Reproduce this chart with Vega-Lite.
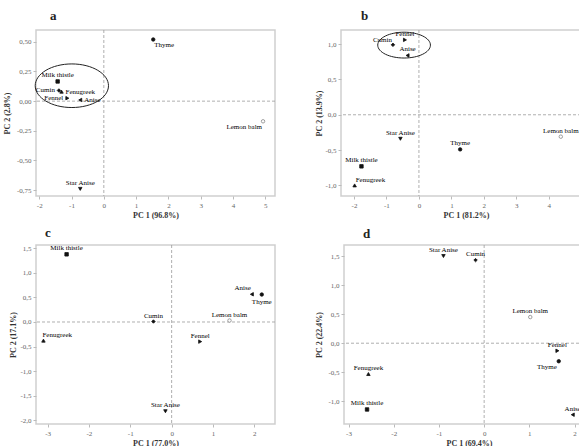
{
  "$schema": "https://vega.github.io/schema/vega-lite/v6.json",
  "padding": {"left": 2, "top": 8, "right": 0, "bottom": 0},
  "background": "white",
  "config": {
    "locale": {"number": {"decimal": ",", "thousands": ".", "grouping": [3], "currency": ["", ""], "minus": "-"}},
    "view": {"stroke": "#cfcfcf", "strokeWidth": 1.5},
    "font": "Liberation Serif",
    "title": {"font": "Liberation Serif", "fontSize": 13, "fontWeight": "bold", "anchor": "start", "frame": "group", "offset": 7, "color": "#222"},
    "axis": {
      "labelFont": "Liberation Serif", "labelFontSize": 7, "labelColor": "#666", "labelOverlap": false, "labelFlush": false,
      "titleFont": "Liberation Serif", "titleFontSize": 8, "titleFontWeight": "bold", "titleColor": "#333",
      "domain": false, "tickColor": "#bbb", "tickSize": 3, "labelPadding": 2, "tickCount": 30,
      "gridColor": "#dcdcdc", "gridDash": [1, 2]
    },
    "axisX": {"titlePadding": 3},
    "axisY": {"titlePadding": 3},
    "legend": {"disable": true}
  },
  "datasets": {
    "pts": [
      {"panel": "a", "sample": "Thyme", "x": 1.53, "y": 0.52, "pos": "br"},
      {"panel": "a", "sample": "Milk thistle", "x": -1.43, "y": 0.166, "pos": "t"},
      {"panel": "a", "sample": "Cumin", "x": -1.39, "y": 0.09, "pos": "l"},
      {"panel": "a", "sample": "Fenugreek", "x": -1.31, "y": 0.08, "pos": "r"},
      {"panel": "a", "sample": "Fennel", "x": -1.13, "y": 0.025, "pos": "l"},
      {"panel": "a", "sample": "Anise", "x": -0.73, "y": 0.01, "pos": "r"},
      {"panel": "a", "sample": "Lemon balm", "x": 4.93, "y": -0.17, "pos": "bl"},
      {"panel": "a", "sample": "Star Anise", "x": -0.73, "y": -0.74, "pos": "t"},
      {"panel": "b", "sample": "Fennel", "x": -0.43, "y": 1.06, "pos": "t"},
      {"panel": "b", "sample": "Cumin", "x": -0.8, "y": 0.99, "pos": "tl"},
      {"panel": "b", "sample": "Anise", "x": -0.35, "y": 0.84, "pos": "t"},
      {"panel": "b", "sample": "Star Anise", "x": -0.57, "y": -0.34, "pos": "t"},
      {"panel": "b", "sample": "Thyme", "x": 1.27, "y": -0.49, "pos": "t"},
      {"panel": "b", "sample": "Milk thistle", "x": -1.77, "y": -0.73, "pos": "t"},
      {"panel": "b", "sample": "Fenugreek", "x": -1.98, "y": -1.0, "pos": "tr"},
      {"panel": "b", "sample": "Lemon balm", "x": 4.37, "y": -0.31, "pos": "t"},
      {"panel": "c", "sample": "Milk thistle", "x": -2.54, "y": 1.38, "pos": "t"},
      {"panel": "c", "sample": "Anise", "x": 1.94, "y": 0.565, "pos": "tl"},
      {"panel": "c", "sample": "Thyme", "x": 2.18, "y": 0.56, "pos": "b"},
      {"panel": "c", "sample": "Cumin", "x": -0.44, "y": 0.01, "pos": "t"},
      {"panel": "c", "sample": "Lemon balm", "x": 1.4, "y": 0.03, "pos": "t"},
      {"panel": "c", "sample": "Fenugreek", "x": -3.1, "y": -0.38, "pos": "tr"},
      {"panel": "c", "sample": "Fennel", "x": 0.69, "y": -0.4, "pos": "t"},
      {"panel": "c", "sample": "Star Anise", "x": -0.15, "y": -1.82, "pos": "t"},
      {"panel": "d", "sample": "Star Anise", "x": -0.9, "y": 1.5, "pos": "t"},
      {"panel": "d", "sample": "Cumin", "x": -0.19, "y": 1.43, "pos": "t"},
      {"panel": "d", "sample": "Lemon balm", "x": 1.02, "y": 0.45, "pos": "t"},
      {"panel": "d", "sample": "Fennel", "x": 1.62, "y": -0.13, "pos": "t"},
      {"panel": "d", "sample": "Thyme", "x": 1.65, "y": -0.31, "pos": "bl"},
      {"panel": "d", "sample": "Fenugreek", "x": -2.56, "y": -0.53, "pos": "t"},
      {"panel": "d", "sample": "Milk thistle", "x": -2.59, "y": -1.14, "pos": "t"},
      {"panel": "d", "sample": "Anise", "x": 1.96, "y": -1.23, "pos": "t"}
    ],
    "ell": [
      {"panel": "a", "x": -0.99, "y": 0.13},
      {"panel": "b", "x": -0.457, "y": 0.986}
    ]
  },
  "columns": 2,
  "align": "none",
  "spacing": {"row": 6, "column": 38},
  "concat": [
    {
      "title": {"text": "a", "dx": 14},
      "width": 239, "height": 166,
      "layer": [
        {"data": {"values": [{}]}, "mark": {"type": "rule", "color": "#9a9a9a", "strokeDash": [3, 2], "strokeWidth": 0.8}, "encoding": {"x": {"datum": 0, "type": "quantitative"}}},
        {"data": {"values": [{}]}, "mark": {"type": "rule", "color": "#9a9a9a", "strokeDash": [3, 2], "strokeWidth": 0.8}, "encoding": {"y": {"datum": 0, "type": "quantitative"}}},
        {
          "data": {"name": "pts"},
          "transform": [{"filter": "datum.panel == 'a'"}],
          "mark": {"type": "point", "strokeWidth": 0.8, "opacity": 1},
          "encoding": {
            "x": {"field": "x", "type": "quantitative", "scale": {"domain": [-2.1, 5.3], "nice": false, "zero": false}, "axis": {"title": "PC 1 (96.8%)", "values": [-2, -1, 0, 1, 2, 3, 4, 5], "tickCount": 30, "format": "d", "labelOverlap": false}},
            "y": {"field": "y", "type": "quantitative", "scale": {"domain": [-0.8, 0.6], "nice": false, "zero": false}, "axis": {"title": "PC 2 (2.8%)", "values": [-0.75, -0.5, -0.25, 0, 0.25, 0.5], "tickCount": 30, "format": ".2f", "labelOverlap": false, "titlePadding": 5}},
            "shape": {"field": "sample", "type": "nominal", "scale": {"domain": ["Anise", "Cumin", "Fennel", "Fenugreek", "Lemon balm", "Milk thistle", "Star Anise", "Thyme"], "range": ["triangle-left", "diamond", "triangle-right", "triangle-up", "circle", "square", "triangle-down", "circle"]}},
            "fill": {"field": "sample", "type": "nominal", "scale": {"domain": ["Anise", "Cumin", "Fennel", "Fenugreek", "Lemon balm", "Milk thistle", "Star Anise", "Thyme"], "range": ["#111", "#111", "#111", "#111", "#ffffff", "#111", "#111", "#111"]}},
            "stroke": {"field": "sample", "type": "nominal", "scale": {"domain": ["Anise", "Cumin", "Fennel", "Fenugreek", "Lemon balm", "Milk thistle", "Star Anise", "Thyme"], "range": ["#111", "#111", "#111", "#111", "#888", "#111", "#111", "#111"]}},
            "size": {"field": "sample", "type": "nominal", "scale": {"domain": ["Anise", "Cumin", "Fennel", "Fenugreek", "Lemon balm", "Milk thistle", "Star Anise", "Thyme"], "range": [12, 12, 12, 12, 16, 12, 14, 24]}}
          }
        },
        {
          "data": {"name": "pts"},
          "transform": [{"filter": "datum.panel == 'a'"}],
          "mark": {
            "type": "text", "fontSize": 7, "color": "#000", "font": "Liberation Serif",
            "align": {"expr": "indexof(['l','tl','bl'], datum.pos) >= 0 ? 'right' : (indexof(['r','tr','br'], datum.pos) >= 0 ? 'left' : 'center')"},
            "baseline": {"expr": "indexof(['t','tl','tr'], datum.pos) >= 0 ? 'bottom' : (indexof(['b','bl','br'], datum.pos) >= 0 ? 'top' : 'middle')"},
            "dx": {"expr": "datum.pos == 'l' ? -4 : datum.pos == 'r' ? 4 : datum.pos == 'tl' ? -1 : datum.pos == 'tr' ? 1 : datum.pos == 'bl' ? -1 : datum.pos == 'br' ? 1 : 0"},
            "dy": {"expr": "datum.pos == 't' ? -3 : datum.pos == 'b' ? 3 : (datum.pos == 'tl' || datum.pos == 'tr') ? -2 : (datum.pos == 'bl' || datum.pos == 'br') ? 2 : 0"}
          },
          "encoding": {
            "x": {"field": "x", "type": "quantitative"},
            "y": {"field": "y", "type": "quantitative"},
            "text": {"field": "sample"}
          }
        },
        {
          "data": {"name": "ell"},
          "transform": [{"filter": "datum.panel == 'a'"}],
          "mark": {"type": "point", "shape": "M -1 0 A 1 0.595 0 1 0 1 0 A 1 0.595 0 1 0 -1 0 Z", "size": 5370, "filled": false, "stroke": "#222", "strokeWidth": 1, "opacity": 1},
          "encoding": {
            "x": {"field": "x", "type": "quantitative"},
            "y": {"field": "y", "type": "quantitative"}
          }
        }
      ]
    },
    {
      "title": {"text": "b", "dx": 20},
      "width": 250, "height": 166,
      "layer": [
        {"data": {"values": [{}]}, "mark": {"type": "rule", "color": "#9a9a9a", "strokeDash": [3, 2], "strokeWidth": 0.8}, "encoding": {"x": {"datum": 0, "type": "quantitative"}}},
        {"data": {"values": [{}]}, "mark": {"type": "rule", "color": "#9a9a9a", "strokeDash": [3, 2], "strokeWidth": 0.8}, "encoding": {"y": {"datum": 0, "type": "quantitative"}}},
        {
          "data": {"name": "pts"},
          "transform": [{"filter": "datum.panel == 'b'"}],
          "mark": {"type": "point", "strokeWidth": 0.8, "opacity": 1},
          "encoding": {
            "x": {"field": "x", "type": "quantitative", "scale": {"domain": [-2.4, 5.3], "nice": false, "zero": false}, "axis": {"title": "PC 1 (81.2%)", "values": [-2, -1, 0, 1, 2, 3, 4, 5], "tickCount": 30, "format": "d", "labelOverlap": false}},
            "y": {"field": "y", "type": "quantitative", "scale": {"domain": [-1.15, 1.2], "nice": false, "zero": false}, "axis": {"title": "PC 2 (13.9%)", "values": [-1, -0.5, 0, 0.5, 1], "tickCount": 30, "format": ".1f", "labelOverlap": false, "titlePadding": 1}},
            "shape": {"field": "sample", "type": "nominal", "scale": {"domain": ["Anise", "Cumin", "Fennel", "Fenugreek", "Lemon balm", "Milk thistle", "Star Anise", "Thyme"], "range": ["triangle-left", "diamond", "triangle-right", "triangle-up", "circle", "square", "triangle-down", "circle"]}},
            "fill": {"field": "sample", "type": "nominal", "scale": {"domain": ["Anise", "Cumin", "Fennel", "Fenugreek", "Lemon balm", "Milk thistle", "Star Anise", "Thyme"], "range": ["#111", "#111", "#111", "#111", "#ffffff", "#111", "#111", "#111"]}},
            "stroke": {"field": "sample", "type": "nominal", "scale": {"domain": ["Anise", "Cumin", "Fennel", "Fenugreek", "Lemon balm", "Milk thistle", "Star Anise", "Thyme"], "range": ["#111", "#111", "#111", "#111", "#888", "#111", "#111", "#111"]}},
            "size": {"field": "sample", "type": "nominal", "scale": {"domain": ["Anise", "Cumin", "Fennel", "Fenugreek", "Lemon balm", "Milk thistle", "Star Anise", "Thyme"], "range": [12, 12, 12, 12, 16, 12, 14, 24]}}
          }
        },
        {
          "data": {"name": "pts"},
          "transform": [{"filter": "datum.panel == 'b'"}],
          "mark": {
            "type": "text", "fontSize": 7, "color": "#000", "font": "Liberation Serif",
            "align": {"expr": "indexof(['l','tl','bl'], datum.pos) >= 0 ? 'right' : (indexof(['r','tr','br'], datum.pos) >= 0 ? 'left' : 'center')"},
            "baseline": {"expr": "indexof(['t','tl','tr'], datum.pos) >= 0 ? 'bottom' : (indexof(['b','bl','br'], datum.pos) >= 0 ? 'top' : 'middle')"},
            "dx": {"expr": "datum.pos == 'l' ? -4 : datum.pos == 'r' ? 4 : datum.pos == 'tl' ? -1 : datum.pos == 'tr' ? 1 : datum.pos == 'bl' ? -1 : datum.pos == 'br' ? 1 : 0"},
            "dy": {"expr": "datum.pos == 't' ? -3 : datum.pos == 'b' ? 3 : (datum.pos == 'tl' || datum.pos == 'tr') ? -2 : (datum.pos == 'bl' || datum.pos == 'br') ? 2 : 0"}
          },
          "encoding": {
            "x": {"field": "x", "type": "quantitative"},
            "y": {"field": "y", "type": "quantitative"},
            "text": {"field": "sample"}
          }
        },
        {
          "data": {"name": "ell"},
          "transform": [{"filter": "datum.panel == 'b'"}],
          "mark": {"type": "point", "shape": "M -1 0 A 1 0.49 0 1 0 1 0 A 1 0.49 0 1 0 -1 0 Z", "size": 2777, "filled": false, "stroke": "#222", "strokeWidth": 1, "opacity": 1},
          "encoding": {
            "x": {"field": "x", "type": "quantitative"},
            "y": {"field": "y", "type": "quantitative"}
          }
        }
      ]
    },
    {
      "title": {"text": "c", "dx": 9, "offset": 4},
      "width": 239, "height": 179,
      "layer": [
        {"data": {"values": [{}]}, "mark": {"type": "rule", "color": "#9a9a9a", "strokeDash": [3, 2], "strokeWidth": 0.8}, "encoding": {"x": {"datum": 0, "type": "quantitative"}}},
        {"data": {"values": [{}]}, "mark": {"type": "rule", "color": "#9a9a9a", "strokeDash": [3, 2], "strokeWidth": 0.8}, "encoding": {"y": {"datum": 0, "type": "quantitative"}}},
        {
          "data": {"name": "pts"},
          "transform": [{"filter": "datum.panel == 'c'"}],
          "mark": {"type": "point", "strokeWidth": 0.8, "opacity": 1},
          "encoding": {
            "x": {"field": "x", "type": "quantitative", "scale": {"domain": [-3.28, 2.5], "nice": false, "zero": false}, "axis": {"title": "PC 1 (77.0%)", "values": [-3, -2, -1, 0, 1, 2], "tickCount": 30, "format": "d", "labelOverlap": false}},
            "y": {"field": "y", "type": "quantitative", "scale": {"domain": [-2.08, 1.57], "nice": false, "zero": false}, "axis": {"title": "PC 2 (17.1%)", "values": [-2, -1.5, -1, -0.5, 0, 0.5, 1, 1.5], "tickCount": 30, "format": ".1f", "labelOverlap": false, "titlePadding": 2}},
            "shape": {"field": "sample", "type": "nominal", "scale": {"domain": ["Anise", "Cumin", "Fennel", "Fenugreek", "Lemon balm", "Milk thistle", "Star Anise", "Thyme"], "range": ["triangle-left", "diamond", "triangle-right", "triangle-up", "circle", "square", "triangle-down", "circle"]}},
            "fill": {"field": "sample", "type": "nominal", "scale": {"domain": ["Anise", "Cumin", "Fennel", "Fenugreek", "Lemon balm", "Milk thistle", "Star Anise", "Thyme"], "range": ["#111", "#111", "#111", "#111", "#ffffff", "#111", "#111", "#111"]}},
            "stroke": {"field": "sample", "type": "nominal", "scale": {"domain": ["Anise", "Cumin", "Fennel", "Fenugreek", "Lemon balm", "Milk thistle", "Star Anise", "Thyme"], "range": ["#111", "#111", "#111", "#111", "#888", "#111", "#111", "#111"]}},
            "size": {"field": "sample", "type": "nominal", "scale": {"domain": ["Anise", "Cumin", "Fennel", "Fenugreek", "Lemon balm", "Milk thistle", "Star Anise", "Thyme"], "range": [12, 12, 12, 12, 16, 12, 14, 24]}}
          }
        },
        {
          "data": {"name": "pts"},
          "transform": [{"filter": "datum.panel == 'c'"}],
          "mark": {
            "type": "text", "fontSize": 7, "color": "#000", "font": "Liberation Serif",
            "align": {"expr": "indexof(['l','tl','bl'], datum.pos) >= 0 ? 'right' : (indexof(['r','tr','br'], datum.pos) >= 0 ? 'left' : 'center')"},
            "baseline": {"expr": "indexof(['t','tl','tr'], datum.pos) >= 0 ? 'bottom' : (indexof(['b','bl','br'], datum.pos) >= 0 ? 'top' : 'middle')"},
            "dx": {"expr": "datum.pos == 'l' ? -4 : datum.pos == 'r' ? 4 : datum.pos == 'tl' ? -1 : datum.pos == 'tr' ? -1 : datum.pos == 'bl' ? -1 : datum.pos == 'br' ? 1 : 0"},
            "dy": {"expr": "datum.pos == 't' ? -3 : datum.pos == 'b' ? 3 : (datum.pos == 'tl' || datum.pos == 'tr') ? -3 : (datum.pos == 'bl' || datum.pos == 'br') ? 2 : 0"}
          },
          "encoding": {
            "x": {"field": "x", "type": "quantitative"},
            "y": {"field": "y", "type": "quantitative"},
            "text": {"field": "sample"}
          }
        }
      ]
    },
    {
      "title": {"text": "d", "dx": 19, "offset": 4},
      "width": 250, "height": 179,
      "layer": [
        {"data": {"values": [{}]}, "mark": {"type": "rule", "color": "#9a9a9a", "strokeDash": [3, 2], "strokeWidth": 0.8}, "encoding": {"x": {"datum": 0, "type": "quantitative"}}},
        {"data": {"values": [{}]}, "mark": {"type": "rule", "color": "#9a9a9a", "strokeDash": [3, 2], "strokeWidth": 0.8}, "encoding": {"y": {"datum": 0, "type": "quantitative"}}},
        {
          "data": {"name": "pts"},
          "transform": [{"filter": "datum.panel == 'd'"}],
          "mark": {"type": "point", "strokeWidth": 0.8, "opacity": 1},
          "encoding": {
            "x": {"field": "x", "type": "quantitative", "scale": {"domain": [-3.1, 2.43], "nice": false, "zero": false}, "axis": {"title": "PC 1 (69.4%)", "values": [-3, -2, -1, 0, 1, 2], "tickCount": 30, "format": "d", "labelOverlap": false}},
            "y": {"field": "y", "type": "quantitative", "scale": {"domain": [-1.39, 1.69], "nice": false, "zero": false}, "axis": {"title": "PC 2 (22.4%)", "values": [-1, -0.5, 0, 0.5, 1, 1.5], "tickCount": 30, "format": ".1f", "labelOverlap": false, "titlePadding": 4}},
            "shape": {"field": "sample", "type": "nominal", "scale": {"domain": ["Anise", "Cumin", "Fennel", "Fenugreek", "Lemon balm", "Milk thistle", "Star Anise", "Thyme"], "range": ["triangle-left", "diamond", "triangle-right", "triangle-up", "circle", "square", "triangle-down", "circle"]}},
            "fill": {"field": "sample", "type": "nominal", "scale": {"domain": ["Anise", "Cumin", "Fennel", "Fenugreek", "Lemon balm", "Milk thistle", "Star Anise", "Thyme"], "range": ["#111", "#111", "#111", "#111", "#ffffff", "#111", "#111", "#111"]}},
            "stroke": {"field": "sample", "type": "nominal", "scale": {"domain": ["Anise", "Cumin", "Fennel", "Fenugreek", "Lemon balm", "Milk thistle", "Star Anise", "Thyme"], "range": ["#111", "#111", "#111", "#111", "#888", "#111", "#111", "#111"]}},
            "size": {"field": "sample", "type": "nominal", "scale": {"domain": ["Anise", "Cumin", "Fennel", "Fenugreek", "Lemon balm", "Milk thistle", "Star Anise", "Thyme"], "range": [12, 12, 12, 12, 16, 12, 14, 24]}}
          }
        },
        {
          "data": {"name": "pts"},
          "transform": [{"filter": "datum.panel == 'd'"}],
          "mark": {
            "type": "text", "fontSize": 7, "color": "#000", "font": "Liberation Serif",
            "align": {"expr": "indexof(['l','tl','bl'], datum.pos) >= 0 ? 'right' : (indexof(['r','tr','br'], datum.pos) >= 0 ? 'left' : 'center')"},
            "baseline": {"expr": "indexof(['t','tl','tr'], datum.pos) >= 0 ? 'bottom' : (indexof(['b','bl','br'], datum.pos) >= 0 ? 'top' : 'middle')"},
            "dx": {"expr": "datum.pos == 'l' ? -4 : datum.pos == 'r' ? 4 : datum.pos == 'tl' ? -1 : datum.pos == 'tr' ? 1 : datum.pos == 'bl' ? -2 : datum.pos == 'br' ? 1 : 0"},
            "dy": {"expr": "datum.pos == 't' ? -3 : datum.pos == 'b' ? 3 : (datum.pos == 'tl' || datum.pos == 'tr') ? -2 : (datum.pos == 'bl' || datum.pos == 'br') ? 2 : 0"}
          },
          "encoding": {
            "x": {"field": "x", "type": "quantitative"},
            "y": {"field": "y", "type": "quantitative"},
            "text": {"field": "sample"}
          }
        }
      ]
    }
  ]
}
